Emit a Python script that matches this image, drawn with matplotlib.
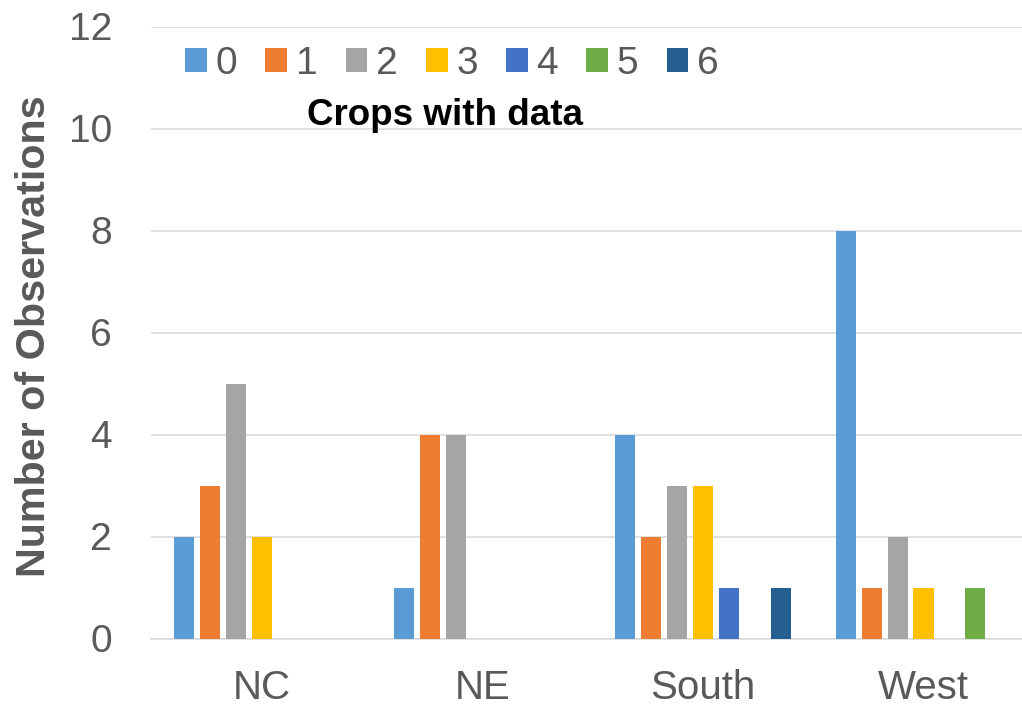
import matplotlib
matplotlib.use("Agg")
import matplotlib.pyplot as plt
import numpy as np

plt.rcParams['font.family'] = ['Liberation Sans', 'DejaVu Sans']

# ---- data ----
regions = ["NC", "NE", "South", "West"]
crop_labels = ["0", "1", "2", "3", "4", "5", "6"]
crop0 = [2, 1, 4, 8]
crop1 = [3, 4, 2, 1]
crop2 = [5, 4, 3, 2]
crop3 = [2, 0, 3, 1]
crop4 = [0, 0, 1, 0]
crop5 = [0, 0, 0, 1]
crop6 = [0, 0, 1, 0]
series = [crop0, crop1, crop2, crop3, crop4, crop5, crop6]
colors = ["#5B9BD5", "#ED7D31", "#A5A5A5", "#FFC000", "#4472C4", "#70AD47", "#255E91"]
yticks = [0, 2, 4, 6, 8, 10, 12]
ylabel = "Number of Observations"
legend_title = "Crops with data"

TEXT = "#595959"
GRID = "#D9D9D9"

W, H = 1022, 708
fig = plt.figure(figsize=(W / 100, H / 100), dpi=100)
ax_left, ax_right = 151.4, 1033.8
ax_top, ax_bottom = 26.5, 638.5
ax = fig.add_axes([ax_left / W, 1 - ax_bottom / H, (ax_right - ax_left) / W, (ax_bottom - ax_top) / H])

x = np.arange(len(regions))
pitch = 1 / 8.5
bw = 0.0907
handles = []
for i, (vals, c, lab) in enumerate(zip(series, colors, crop_labels)):
    b = ax.bar(x + (i - 3) * pitch, vals, width=bw, color=c, linewidth=0, label=lab, zorder=3)
    handles.append(b)

ax.set_xlim(-0.5, len(regions) - 0.5)
ax.set_ylim(0, 12)
ax.set_yticks(yticks)
ax.set_xticks(x)
ax.set_xticklabels(regions)
ax.grid(axis='y', color=GRID, linewidth=1.1, zorder=0)
ax.set_axisbelow(True)
for s in ["top", "right", "left"]:
    ax.spines[s].set_visible(False)
ax.spines["bottom"].set_color(GRID)
ax.spines["bottom"].set_linewidth(1.1)
ax.tick_params(axis='x', length=0, pad=21.8, labelsize=29, labelcolor=TEXT)
ax.tick_params(axis='y', length=0, pad=28.4, labelsize=28, labelcolor=TEXT)

ax.set_ylabel(ylabel, fontsize=29.7, fontweight='bold', color=TEXT, va='center')
ax.yaxis.set_label_coords((34 - ax_left) / (ax_right - ax_left), (ax_bottom - 336) / (ax_bottom - ax_top))

leg = ax.legend(handles=handles, labels=crop_labels, ncol=7, frameon=False,
                loc='center left', bbox_to_anchor=(185 / W, 1 - 64 / H),
                bbox_transform=fig.transFigure, borderaxespad=0, borderpad=0,
                fontsize=28, handlelength=0.558, handleheight=0.558,
                handletextpad=0.22, columnspacing=0.73)
for t in leg.get_texts():
    t.set_color(TEXT)

fig.text(445 / W, 1 - 125 / H, legend_title, ha='center', va='baseline',
         fontsize=26.5, fontweight='bold', color='black')

fig.savefig("out.png", dpi=100)
